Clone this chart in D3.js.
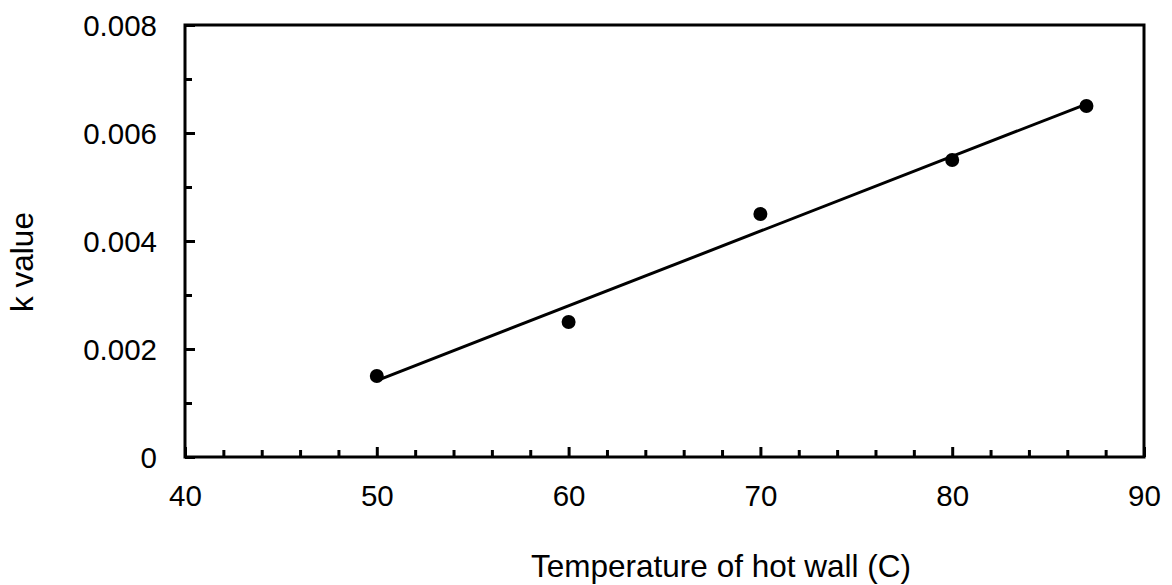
<!DOCTYPE html>
<html>
<head>
<meta charset="utf-8">
<script src="https://cdn.jsdelivr.net/npm/d3@7"></script>
<style>
  html, body { margin: 0; padding: 0; background: #fff; }
  text { font-family: "Liberation Sans", Arial, sans-serif; fill: #000; }
</style>
</head>
<body>
<svg id="chart" width="1172" height="585"></svg>
<script>
// ---- data ----
const temperatures = [50, 60, 70, 80, 87];
const kValues = [0.0015, 0.0025, 0.0045, 0.0055, 0.0065];
const xTickLabels = [40, 50, 60, 70, 80, 90];
const yTickLabels = [0, 0.002, 0.004, 0.006, 0.008];
const xTitle = "Temperature of hot wall (C)";
const yTitle = "k value";

// ---- layout ----
const svg = d3.select("#chart");
const plotLeft = 185, plotRight = 1144, plotTop = 25, plotBottom = 457;
const x = d3.scaleLinear().domain([40, 90]).range([plotLeft, plotRight]);
const y = d3.scaleLinear().domain([0, 0.008]).range([plotBottom, plotTop]);
const fs = 29.5;
const fsTitle = 31.5;

// minor ticks
const xMinor = d3.range(40, 90.001, 2).filter(v => v % 10 !== 0);
const yMinor = d3.range(0, 0.0080001, 0.001).filter((v, i) => i % 2 === 1);

// x axis (ticks pointing inward)
const xAxis = d3.axisBottom(x).tickValues(xTickLabels).tickSize(-10).tickFormat(d3.format("d")).tickSizeOuter(0);
const gx = svg.append("g").attr("transform", `translate(0,${plotBottom})`).call(xAxis);
gx.select(".domain").remove();
gx.selectAll(".tick line").attr("stroke", "#000").attr("stroke-width", 3);
gx.selectAll(".tick text").attr("font-size", fs).attr("y", 0).attr("dy", 49)
  .style("font-family", "'Liberation Sans', Arial, sans-serif").attr("fill", "#000");
const gxm = svg.append("g").attr("transform", `translate(0,${plotBottom})`)
  .call(d3.axisBottom(x).tickValues(xMinor).tickSize(-7).tickFormat(""));
gxm.select(".domain").remove();
gxm.selectAll(".tick line").attr("stroke", "#000").attr("stroke-width", 3);

// y axis
const yAxis = d3.axisLeft(y).tickValues(yTickLabels).tickSize(-10)
  .tickFormat(d => d === 0 ? "0" : d3.format(".3f")(d));
const gy = svg.append("g").attr("transform", `translate(${plotLeft},0)`).call(yAxis);
gy.select(".domain").remove();
gy.selectAll(".tick line").attr("stroke", "#000").attr("stroke-width", 3);
gy.selectAll(".tick text").attr("font-size", fs).attr("x", -28).attr("dy", "0.35em")
  .style("font-family", "'Liberation Sans', Arial, sans-serif").attr("fill", "#000");
const gym = svg.append("g").attr("transform", `translate(${plotLeft},0)`)
  .call(d3.axisLeft(y).tickValues(yMinor).tickSize(-7).tickFormat(""));
gym.select(".domain").remove();
gym.selectAll(".tick line").attr("stroke", "#000").attr("stroke-width", 3);

// frame
svg.append("rect")
  .attr("x", plotLeft).attr("y", plotTop)
  .attr("width", plotRight - plotLeft).attr("height", plotBottom - plotTop)
  .attr("fill", "none").attr("stroke", "#000").attr("stroke-width", 3);

// linear trendline (least squares from the data)
const mx = d3.mean(temperatures), my = d3.mean(kValues);
let sxy = 0, sxx = 0;
temperatures.forEach((t, i) => { sxy += (t - mx) * (kValues[i] - my); sxx += (t - mx) * (t - mx); });
const slope = sxy / sxx, intercept = my - slope * mx;
const xMin = d3.min(temperatures), xMax = d3.max(temperatures);
svg.append("path")
  .datum([xMin, xMax])
  .attr("d", d3.line().x(d => x(d)).y(d => y(intercept + slope * d)))
  .attr("fill", "none").attr("stroke", "#000").attr("stroke-width", 3);

// points
svg.append("g").selectAll("circle")
  .data(temperatures.map((t, i) => [t, kValues[i]]))
  .join("circle")
  .attr("cx", d => x(d[0])).attr("cy", d => y(d[1]))
  .attr("r", 7).attr("fill", "#000");

// titles
svg.append("text")
  .attr("x", 721).attr("y", 577)
  .attr("text-anchor", "middle").attr("font-size", fsTitle)
  .text(xTitle);
svg.append("text")
  .attr("transform", "translate(33,262) rotate(-90)")
  .attr("text-anchor", "middle").attr("font-size", fsTitle)
  .text(yTitle);
</script>
</body>
</html>
